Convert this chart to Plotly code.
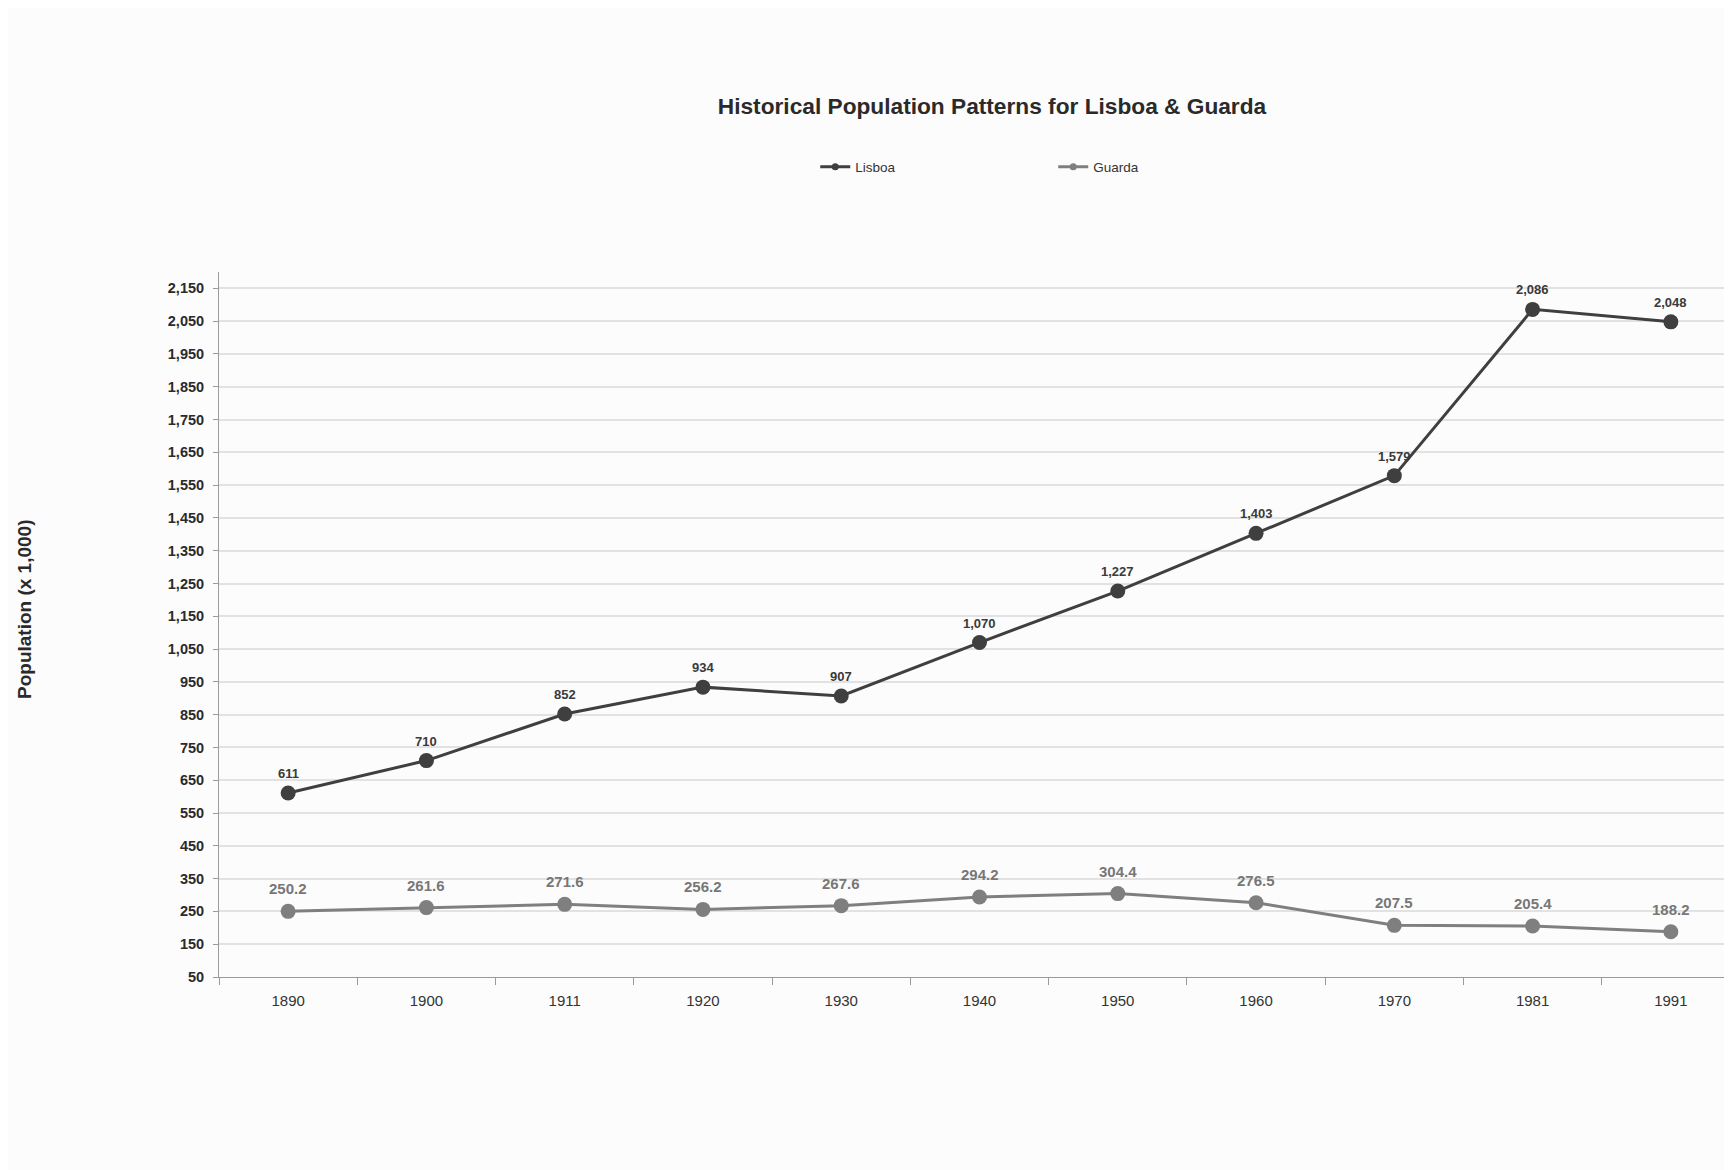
import plotly.graph_objects as go

years = ["1890", "1900", "1911", "1920", "1930", "1940", "1950", "1960", "1970", "1981", "1991"]
lisboa = [611, 710, 852, 934, 907, 1070, 1227, 1403, 1579, 2086, 2048]
guarda = [250.2, 261.6, 271.6, 256.2, 267.6, 294.2, 304.4, 276.5, 207.5, 205.4, 188.2]
y_ticks = list(range(50, 2151, 100))

FONT = "Liberation Sans, Arial, sans-serif"
C_LIS = "#3f3f3f"
C_GUA = "#7f7f7f"

fig = go.Figure()
fig.add_trace(go.Scatter(
    x=years, y=lisboa, name="Lisboa", mode="lines+markers", showlegend=False,
    line=dict(color=C_LIS, width=3), marker=dict(size=15, color=C_LIS),
))
fig.add_trace(go.Scatter(
    x=years, y=guarda, name="Guarda", mode="lines+markers", showlegend=False,
    line=dict(color=C_GUA, width=3), marker=dict(size=15, color=C_GUA),
))
# legend entries with small markers
fig.add_trace(go.Scatter(x=[None], y=[None], name="Lisboa", mode="lines+markers",
                         line=dict(color=C_LIS, width=3), marker=dict(size=7, color=C_LIS)))
fig.add_trace(go.Scatter(x=[None], y=[None], name="Guarda", mode="lines+markers",
                         line=dict(color=C_GUA, width=3), marker=dict(size=7, color=C_GUA)))

for i, v in enumerate(lisboa):
    fig.add_annotation(x=i, y=v, xref="x", yref="y", text=f"<b>{v:,}</b>", showarrow=False,
                       yanchor="bottom", yshift=10,
                       font=dict(family=FONT, size=13, color="#3a3a3a"))
for i, v in enumerate(guarda):
    fig.add_annotation(x=i, y=v, xref="x", yref="y", text=f"<b>{v:.1f}</b>", showarrow=False,
                       yanchor="bottom", yshift=12,
                       font=dict(family=FONT, size=15, color="#777777"))

fig.add_annotation(xref="paper", yref="paper", x=(16 - 211) / 1521, y=(969 - 602) / 705,
                   text="<b>Population (x 1,000)</b>", textangle=-90, showarrow=False,
                   xanchor="center", yanchor="middle",
                   font=dict(size=19, color="#2a2a2a", family=FONT))

fig.update_layout(
    width=1732, height=1170,
    paper_bgcolor="#fcfcfc", plot_bgcolor="#fcfcfc",
    margin=dict(l=211, r=0, t=264, b=201),
    font=dict(family=FONT, color="#333333"),
    title=dict(text="<b>Historical Population Patterns for Lisboa & Guarda</b>",
               font=dict(size=22.7, color="#2a2a2a", family=FONT),
               xref="container", x=984 / 1732, xanchor="center",
               yref="container", y=1 - 98 / 1170, yanchor="middle"),
    legend=dict(orientation="h", x=0.392, xanchor="left", y=1.149, yanchor="middle",
                entrywidth=193, entrywidthmode="pixels",
                font=dict(size=13.5, color="#333333", family=FONT),
                bgcolor="rgba(0,0,0,0)"),
    showlegend=True,
)
fig.update_xaxes(
    type="category", range=[-0.5, 10.5],
    showline=True, linecolor="#9a9a9a", linewidth=1,
    ticks="outside", tickson="boundaries", ticklen=7, tickcolor="#9a9a9a",
    showgrid=False, tickfont=dict(size=15, color="#333333", family=FONT),
    ticklabelstandoff=10,
)
fig.update_yaxes(
    range=[50, 2200], tickvals=y_ticks, ticktext=[f"<b>{v:,}</b>" for v in y_ticks],
    showline=True, linecolor="#9a9a9a", linewidth=1,
    ticks="outside", ticklen=5, tickcolor="#9a9a9a",
    showgrid=True, gridcolor="#e2e2e2", gridwidth=1.5, zeroline=False,
    tickfont=dict(size=14.5, color="#2a2a2a", family=FONT),
    ticklabelstandoff=6,
)

fig.write_html("out.html")
